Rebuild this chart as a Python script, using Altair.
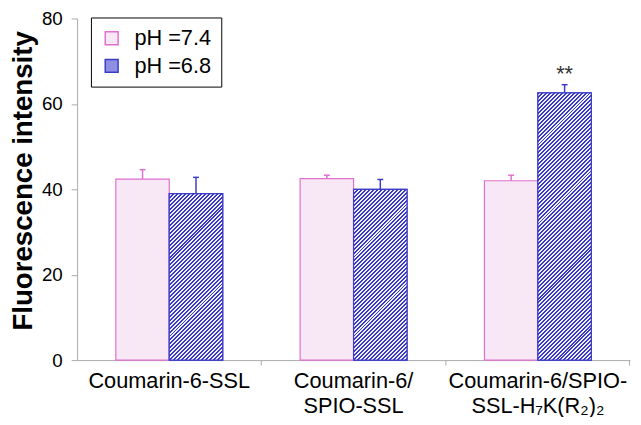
import math
import altair as alt
import pandas as pd

categories = ["Coumarin-6-SSL", "Coumarin-6/\nSPIO-SSL", "Coumarin-6/SPIO-\nSSL-H\u2087K(R\u2082)\u2082"]
series = ["pH =7.4", "pH =6.8"]
ph74_mean = [42.4, 42.5, 42.0]
ph74_err = [2.2, 0.8, 1.3]
ph68_mean = [39.0, 40.0, 62.6]
ph68_err = [3.8, 2.3, 1.9]
star_category = [categories[2]]
star_series = [series[1]]
star_text = ["**"]

fills = ["#f8e8f5", "#8f8fe2"]
strokes = ["#e070cf", "#3c3cc8"]

W, H = 560, 346
Y_MAX = 80
PAD_IN, PAD_OUT = 0.42, 0.21

rows = []
for i, c in enumerate(categories):
    rows.append({"category": c, "series": series[0], "value": ph74_mean[i], "upper": ph74_mean[i] + ph74_err[i]})
    rows.append({"category": c, "series": series[1], "value": ph68_mean[i], "upper": ph68_mean[i] + ph68_err[i]})
df = pd.DataFrame(rows)

star_df = df[(df["category"].isin(star_category)) & (df["series"].isin(star_series))].copy()
star_df["label"] = star_text

FONT = "Liberation Sans"


def hatch_gradient(w, h, period=4.0, dark="#3838c4", light="#f0f0ff", frac=0.5):
    # diagonal "///" stripes inside an objectBoundingBox linear gradient
    k = (1 / h + 1 / w) / (1 / h ** 2 + 1 / w ** 2)
    x2, y2 = k / h, k / w
    n = (w + h) / period
    stops = []
    i = 0
    while i / n < 1:
        a = i / n
        b = min((i + frac) / n, 1.0)
        c = min((i + 1) / n, 1.0)
        stops += [alt.GradientStop(offset=a, color=dark), alt.GradientStop(offset=b, color=dark),
                  alt.GradientStop(offset=b, color=light), alt.GradientStop(offset=c, color=light)]
        i += 1
    return alt.LinearGradient(gradient="linear", x1=0, y1=0, x2=x2, y2=y2, stops=stops)


x_enc = alt.X("category:N", sort=categories,
              scale=alt.Scale(paddingInner=PAD_IN, paddingOuter=PAD_OUT),
              axis=alt.Axis(title=None, labelExpr="split(datum.label, '\\n')",
                            labelFontSize=22, labelFont=FONT, labelColor="black",
                            labelAngle=0, labelPadding=6, labelLineHeight=25, labelLimit=320,
                            domainColor="#aaaaaa", tickColor="#aaaaaa", tickSize=5,
                            bandPosition=1.362))
xo_enc = alt.XOffset("series:N", sort=series, scale=alt.Scale(paddingInner=0, paddingOuter=0))

legend = alt.Legend(title=None, orient="none", legendX=14, legendY=-1,
                    strokeColor="black", padding=10, symbolType="square",
                    symbolSize=170, labelFontSize=22, labelFont=FONT,
                    labelColor="black", rowPadding=6, labelOffset=12,
                    symbolStrokeWidth=1.5, fillColor="white")

fill_enc = alt.Fill("series:N", sort=series, scale=alt.Scale(domain=series, range=fills), legend=legend)
stroke_enc = alt.Stroke("series:N", sort=series, scale=alt.Scale(domain=series, range=strokes), legend=legend)

y_enc = alt.Y("value:Q", scale=alt.Scale(domain=[0, Y_MAX]),
              axis=alt.Axis(values=[0, 20, 40, 60, 80], title="Fluorescence intensity",
                            titleFontSize=28, titleFontWeight="bold", titleFont=FONT,
                            titleColor="black", titlePadding=4, titleY=164,
                            labelFontSize=19, labelFont=FONT, labelColor="black",
                            labelPadding=9, tickSize=6, domainColor="#aaaaaa",
                            tickColor="#aaaaaa", grid=False))

base = alt.Chart(df).encode(x=x_enc, xOffset=xo_enc)

bars = base.mark_bar(strokeWidth=1.2).encode(y=y_enc, fill=fill_enc, stroke=stroke_enc)

step = W / (len(categories) - PAD_IN + 2 * PAD_OUT)
bar_w = step * (1 - PAD_IN) / 2
hatch_layers = []
for i, c in enumerate(categories):
    grad = hatch_gradient(bar_w, ph68_mean[i] * H / Y_MAX)
    layer = (alt.Chart(df)
             .transform_filter(alt.FieldEqualPredicate(field="category", equal=c))
             .transform_filter(alt.FieldEqualPredicate(field="series", equal=series[1]))
             .mark_bar(fill=grad, stroke=strokes[1], strokeWidth=1.2)
             .encode(x=x_enc, xOffset=xo_enc, y="value:Q"))
    hatch_layers.append(layer)

whisk = base.mark_rule(strokeWidth=1.5).encode(y="value:Q", y2="upper:Q", stroke=stroke_enc)
caps = base.mark_point(shape="M-1,0L1,0", size=36, filled=False, strokeWidth=1.5, opacity=1).encode(
    y="upper:Q", stroke=stroke_enc)
stars = alt.Chart(star_df).mark_text(dy=-11, fontSize=22, font=FONT, color="#333333", baseline="middle").encode(
    x=x_enc, xOffset=xo_enc, y="upper:Q", text="label:N")

chart = alt.layer(bars, *hatch_layers, whisk, caps, stars).properties(
    width=W, height=H, autosize="none",
    padding={"left": 70, "top": 8, "right": 3, "bottom": 55},
).configure_view(stroke=None)

chart.save("out.html", embed_options={"renderer": "svg", "actions": False})
